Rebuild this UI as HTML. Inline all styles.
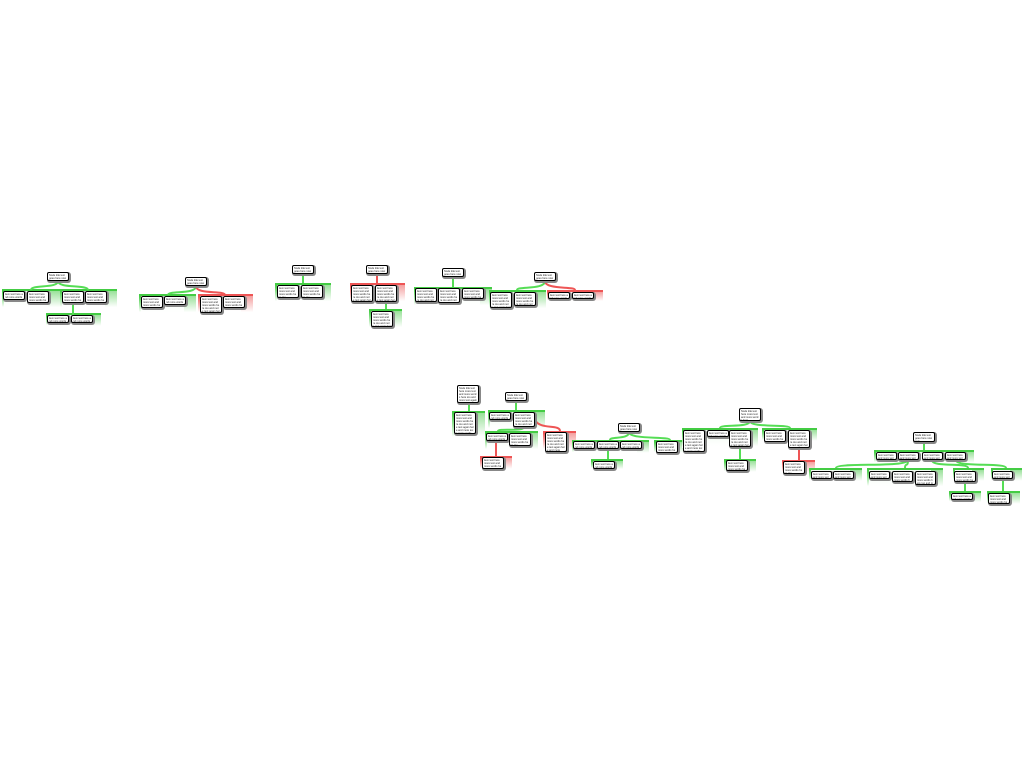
<!DOCTYPE html>
<html><head><meta charset="utf-8"><style>
body{margin:0;width:1024px;height:768px;background:#fff;position:relative;overflow:hidden;font-family:"Liberation Sans",sans-serif}
.b{position:absolute;background:#fff;border:1.4px solid #000;border-radius:2px;box-shadow:1px 1px 0 1px #888;font-size:2.6px;line-height:3px;color:#222;padding:1px;box-sizing:border-box;overflow:hidden;z-index:3;word-break:break-all}
.g,.r{position:absolute;box-sizing:border-box;z-index:1;height:20px}
.g{border-top:2px solid #4c4;background:linear-gradient(to bottom,rgba(70,200,70,.55),rgba(70,200,70,0) 90%)}
.r{border-top:2px solid #e55;background:linear-gradient(to bottom,rgba(235,80,80,.55),rgba(235,80,80,0) 90%)}
.g::before,.r::before{content:"";position:absolute;left:0;top:0;bottom:0;right:12px;background:#fff;opacity:.85}
.g::after{content:"";position:absolute;left:0;top:0;width:2px;bottom:2px;background:linear-gradient(#4c4,rgba(70,200,70,0))}
.r::after{content:"";position:absolute;left:0;top:0;width:2px;bottom:2px;background:linear-gradient(#e55,rgba(235,80,80,0))}
svg{position:absolute;left:0;top:0;z-index:2}
</style></head><body>
<svg width="1024" height="768" fill="none" stroke-width="2">
<g stroke="#5d5">
<path d="M58 281 C58 289 31 284 31 290"/><path d="M58 281 C58 289 88 284 88 290"/><path d="M73 303 L73 315"/>
<path d="M196 286 C196 295 168 290 168 295"/>
<path d="M303 274 L303 283"/>
<path d="M386 302 L386 309"/>
<path d="M453 277 L453 287"/>
<path d="M545 281 C545 290 517 286 517 290"/>
<path d="M469 403 L469 411"/>
<path d="M516 401 L516 410"/><path d="M524 427 C524 432 498 428 498 431"/>
<path d="M629 432 C629 440 610 436 610 440"/><path d="M629 432 C629 440 670 436 670 440"/><path d="M608 449 L608 459"/>
<path d="M750 421 C750 428 720 424 720 428"/><path d="M750 421 C750 428 790 424 790 428"/><path d="M740 447 L740 459"/>
<path d="M924 442 L924 450"/><path d="M908 460 C908 468 836 462 836 468"/><path d="M908 460 C908 468 905 462 905 468"/><path d="M932 460 C932 468 968 462 968 468"/><path d="M956 460 C956 468 1006 462 1006 468"/><path d="M965 482 L965 491"/><path d="M1003 479 L1003 491"/>
</g>
<g stroke="#e55">
<path d="M196 286 C196 295 225 290 225 295"/>
<path d="M377 274 L377 283"/>
<path d="M545 281 C545 290 575 286 575 290"/>
<path d="M496 441 L496 456"/>
<path d="M535 420 C540 430 560 424 560 431"/>
<path d="M799 448 L799 460"/>
</g>
</svg>

<div class="g" style="left:2px;top:289px;width:58px"></div><div class="g" style="left:60px;top:289px;width:57px"></div><div class="g" style="left:46px;top:313px;width:55px;height:14px"></div>
<div class="b" style="left:47px;top:272px;width:22px;height:9px">Node title text goes here now</div>
<div class="b" style="left:3px;top:291px;width:22px;height:9px">item text here and more words here</div>
<div class="b" style="left:27px;top:291px;width:22px;height:12px">item text here more text and more words here too</div>
<div class="b" style="left:62px;top:291px;width:22px;height:12px">item text here more text and more words here too</div>
<div class="b" style="left:85px;top:291px;width:22px;height:12px">item text here more text and more words here too</div>
<div class="b" style="left:47px;top:315px;width:22px;height:8px">item text here and more words</div>
<div class="b" style="left:71px;top:315px;width:22px;height:8px">item text here and more words</div>

<div class="g" style="left:139px;top:294px;width:57px"></div><div class="r" style="left:198px;top:294px;width:55px"></div>
<div class="b" style="left:185px;top:277px;width:22px;height:9px">Node title text goes here now</div>
<div class="b" style="left:141px;top:296px;width:22px;height:12px">item text here more text and more words here too</div>
<div class="b" style="left:164px;top:296px;width:22px;height:9px">item text here and more words here</div>
<div class="b" style="left:200px;top:296px;width:22px;height:17px">item text here more text and more words here too and more text again here</div>
<div class="b" style="left:223px;top:296px;width:22px;height:12px">item text here more text and more words here too</div>

<div class="g" style="left:275px;top:283px;width:56px"></div>
<div class="b" style="left:292px;top:265px;width:22px;height:9px">Node title text goes here now</div>
<div class="b" style="left:277px;top:285px;width:22px;height:13px">item text here more text and more words here too</div>
<div class="b" style="left:301px;top:285px;width:22px;height:13px">item text here more text and more words here too</div>

<div class="r" style="left:350px;top:283px;width:55px"></div><div class="g" style="left:369px;top:309px;width:33px"></div>
<div class="b" style="left:366px;top:265px;width:22px;height:9px">Node title text goes here now</div>
<div class="b" style="left:351px;top:285px;width:22px;height:17px">item text here more text and more words here too and more text again here</div>
<div class="b" style="left:375px;top:285px;width:22px;height:17px">item text here more text and more words here too and more text again here</div>
<div class="b" style="left:371px;top:311px;width:22px;height:16px">item text here more text and more words here too and more text again here</div>

<div class="g" style="left:414px;top:287px;width:78px"></div>
<div class="b" style="left:442px;top:268px;width:22px;height:9px">Node title text goes here now</div>
<div class="b" style="left:415px;top:288px;width:22px;height:14px">item text here more text and more words here too and more</div>
<div class="b" style="left:438px;top:288px;width:22px;height:15px">item text here more text and more words here too and more</div>
<div class="b" style="left:462px;top:288px;width:22px;height:11px">item text here more text and more words here</div>

<div class="g" style="left:489px;top:290px;width:57px"></div><div class="r" style="left:547px;top:290px;width:56px;height:12px"></div>
<div class="b" style="left:534px;top:272px;width:22px;height:9px">Node title text goes here now</div>
<div class="b" style="left:490px;top:292px;width:22px;height:16px">item text here more text and more words here too and more text again here</div>
<div class="b" style="left:514px;top:292px;width:22px;height:14px">item text here more text and more words here too and more</div>
<div class="b" style="left:548px;top:292px;width:22px;height:7px">item text here and more words</div>
<div class="b" style="left:572px;top:292px;width:22px;height:7px">item text here and more words</div>

<div class="g" style="left:452px;top:411px;width:33px;height:28px"></div>
<div class="b" style="left:457px;top:385px;width:22px;height:18px">Node title text here more text and more words here too and more text again here</div>
<div class="b" style="left:454px;top:412px;width:22px;height:22px">item text here more text and more words here too and more text again here and more text again words</div>

<div class="g" style="left:488px;top:410px;width:57px"></div><div class="g" style="left:485px;top:431px;width:53px"></div><div class="r" style="left:480px;top:456px;width:32px;height:14px"></div><div class="r" style="left:543px;top:431px;width:33px"></div>
<div class="b" style="left:505px;top:392px;width:22px;height:9px">Node title text goes here now</div>
<div class="b" style="left:489px;top:412px;width:22px;height:8px">item text here and more words</div>
<div class="b" style="left:513px;top:412px;width:22px;height:15px">item text here more text and more words here too and more</div>
<div class="b" style="left:486px;top:433px;width:22px;height:8px">item text here and more words</div>
<div class="b" style="left:509px;top:433px;width:22px;height:13px">item text here more text and more words here too</div>
<div class="b" style="left:482px;top:457px;width:22px;height:12px">item text here more text and more words here too</div>
<div class="b" style="left:545px;top:432px;width:22px;height:20px">item text here more text and more words here too and more text again here and more</div>

<div class="g" style="left:572px;top:440px;width:77px;height:14px"></div><div class="g" style="left:591px;top:459px;width:32px;height:11px"></div><div class="g" style="left:654px;top:440px;width:33px;height:14px"></div>
<div class="b" style="left:618px;top:423px;width:22px;height:9px">Node title text goes here now</div>
<div class="b" style="left:573px;top:441px;width:22px;height:8px">item text here and more words</div>
<div class="b" style="left:597px;top:441px;width:22px;height:8px">item text here and more words</div>
<div class="b" style="left:620px;top:441px;width:22px;height:8px">item text here and more words</div>
<div class="b" style="left:593px;top:461px;width:22px;height:8px">item text here and more words</div>
<div class="b" style="left:656px;top:441px;width:22px;height:12px">item text here more text and more words here too</div>

<div class="g" style="left:682px;top:428px;width:76px"></div><div class="g" style="left:724px;top:459px;width:32px;height:14px"></div><div class="g" style="left:762px;top:428px;width:55px;height:14px"></div><div class="r" style="left:782px;top:460px;width:33px;height:14px"></div>
<div class="b" style="left:739px;top:408px;width:22px;height:13px">Node title text here more text and more words here</div>
<div class="b" style="left:683px;top:430px;width:22px;height:22px">item text here more text and more words here too and more text again here and more text again words</div>
<div class="b" style="left:707px;top:430px;width:22px;height:7px">item text here and more words</div>
<div class="b" style="left:729px;top:430px;width:22px;height:17px">item text here more text and more words here too and more text again here</div>
<div class="b" style="left:726px;top:460px;width:22px;height:11px">item text here more text and more words here</div>
<div class="b" style="left:764px;top:430px;width:22px;height:12px">item text here more text and more words here too</div>
<div class="b" style="left:788px;top:430px;width:22px;height:18px">item text here more text and more words here too and more text again here</div>
<div class="b" style="left:783px;top:461px;width:22px;height:13px">item text here more text and more words here too</div>

<div class="g" style="left:874px;top:450px;width:100px;height:14px"></div><div class="g" style="left:809px;top:468px;width:53px;height:14px"></div><div class="g" style="left:867px;top:468px;width:76px"></div><div class="g" style="left:953px;top:468px;width:31px;height:14px"></div><div class="g" style="left:991px;top:468px;width:31px;height:14px"></div><div class="g" style="left:949px;top:491px;width:32px;height:12px"></div><div class="g" style="left:987px;top:491px;width:33px;height:14px"></div>
<div class="b" style="left:913px;top:432px;width:22px;height:10px">Node title text goes here now and</div>
<div class="b" style="left:876px;top:452px;width:21px;height:8px">item text here and more words</div>
<div class="b" style="left:898px;top:452px;width:21px;height:8px">item text here and more words</div>
<div class="b" style="left:922px;top:452px;width:21px;height:8px">item text here and more words</div>
<div class="b" style="left:945px;top:452px;width:21px;height:8px">item text here and more words</div>
<div class="b" style="left:811px;top:471px;width:21px;height:8px">item text here and more words</div>
<div class="b" style="left:833px;top:471px;width:21px;height:8px">item text here and more words</div>
<div class="b" style="left:869px;top:471px;width:21px;height:8px">item text here and more words</div>
<div class="b" style="left:892px;top:471px;width:21px;height:11px">item text here more text and more words here</div>
<div class="b" style="left:915px;top:471px;width:21px;height:14px">item text here more text and more words here too and more</div>
<div class="b" style="left:954px;top:471px;width:22px;height:11px">item text here more text and more words here</div>
<div class="b" style="left:992px;top:471px;width:21px;height:8px">item text here and more words</div>
<div class="b" style="left:951px;top:493px;width:22px;height:7px">item text here and more words</div>
<div class="b" style="left:988px;top:493px;width:22px;height:11px">item text here more text and more words here</div>
</body></html>
